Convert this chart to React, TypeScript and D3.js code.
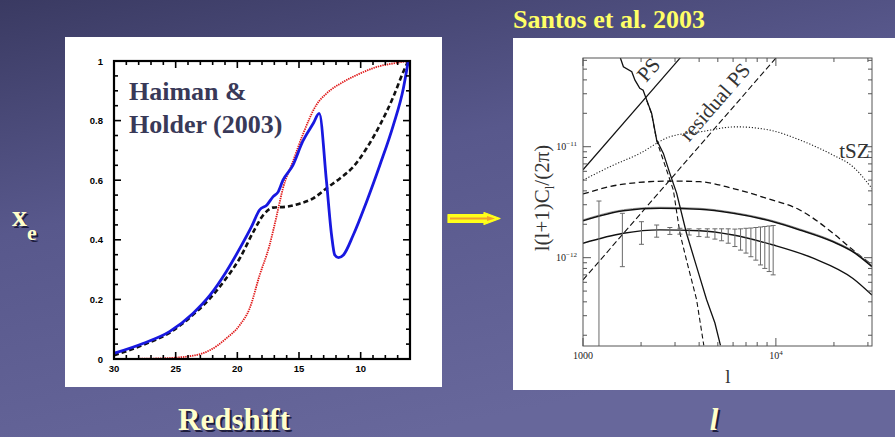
import React from "react";
import * as d3 from "d3";

// ---- Haiman & Holder (2003): ionized fraction x_e vs redshift ----
const zBlue = [30, 27.6, 25.5, 23.6, 22.2, 20.9, 19.8, 18.85, 18.2, 17.6, 17.1, 16.7, 16.3, 15.5, 14.7, 13.85, 13.36, 12.77, 12.36, 12.1, 11.8, 11.4, 10.6, 9.52, 8.44, 7.35, 6.54, 6.14];
const xeBlue = [0.019, 0.053, 0.092, 0.153, 0.215, 0.293, 0.371, 0.444, 0.5, 0.517, 0.545, 0.56, 0.6, 0.65, 0.73, 0.79, 0.824, 0.595, 0.416, 0.349, 0.34, 0.349, 0.416, 0.528, 0.651, 0.785, 0.908, 1.0];

const zBlack = [30, 27.6, 25.5, 23.6, 22.2, 20.9, 19.8, 18.7, 17.9, 17.1, 16.0, 14.9, 13.85, 12.77, 11.68, 10.6, 9.52, 8.44, 7.35, 6.54, 6.14];
const xeBlack = [0.012, 0.048, 0.088, 0.148, 0.204, 0.271, 0.338, 0.427, 0.483, 0.508, 0.511, 0.522, 0.539, 0.573, 0.606, 0.645, 0.707, 0.785, 0.88, 0.964, 1.0];

const zRed = [30, 26.3, 23.6, 22.2, 20.9, 19.8, 19.0, 18.2, 17.4, 16.8, 16.3, 15.5, 14.7, 13.6, 12.77, 11.4, 10.05, 8.7, 7.35, 6.14];
const xeRed = [0, 0.002, 0.011, 0.03, 0.069, 0.114, 0.17, 0.28, 0.38, 0.483, 0.573, 0.662, 0.752, 0.852, 0.891, 0.93, 0.958, 0.98, 0.992, 1.0];

const zTickLabels = [30, 25, 20, 15, 10];
const xeTickLabels = [0, 0.2, 0.4, 0.6, 0.8, 1];

// ---- Santos et al. 2003: l(l+1)C_l/(2pi) vs multipole l ----
const lTsz = [1000, 1380, 1970, 2820, 4030, 6250, 9310, 13300, 19800, 25100, 31500];
const cTsz = [5.0e-12, 6.6e-12, 8.7e-12, 1.23e-11, 1.36e-11, 1.51e-11, 1.41e-11, 1.15e-11, 8.4e-12, 6.6e-12, 4.2e-12];

const lDashed = [1000, 1620, 2820, 4030, 6010, 8950, 13300, 19800, 25100, 31500];
const cDashed = [3.75e-12, 4.6e-12, 4.9e-12, 4.84e-12, 4.2e-12, 3.43e-12, 2.69e-12, 1.66e-12, 1.17e-12, 8.6e-13];

const lUpper = [1000, 1620, 2500, 4030, 6010, 9690, 13300, 19800, 25100, 31500];
const cUpper = [2.15e-12, 2.65e-12, 2.79e-12, 2.73e-12, 2.51e-12, 2.11e-12, 1.78e-12, 1.39e-12, 1.13e-12, 8.3e-13];

const lLower = [1000, 1620, 2500, 4030, 6010, 9690, 15600, 25100, 31500];
const cLower = [1.35e-12, 1.66e-12, 1.78e-12, 1.75e-12, 1.6e-12, 1.3e-12, 9.9e-13, 6.5e-13, 4.6e-13];

const lPrimary = [1560, 1620, 1790, 1860, 1970, 2050, 2140, 2270, 2410, 2610, 2820, 3060, 3440, 3880, 4370, 4830, 5160];
const cPrimary = [6.35e-11, 5.25e-11, 4.74e-11, 3.98e-11, 3.36e-11, 3.23e-11, 2.63e-11, 1.99e-11, 1.15e-11, 8.7e-12, 5.75e-12, 3.8e-12, 1.66e-12, 8.3e-13, 4.2e-13, 2.58e-13, 1.62e-13];

const lPrimaryDash = [2140, 2270, 2410, 2710, 2940, 3180, 3440, 3880, 4230];
const cPrimaryDash = [2.6e-11, 1.97e-11, 1.13e-11, 6.2e-12, 4.07e-12, 1.66e-12, 9.5e-13, 4.2e-13, 1.62e-13];

const lPS = [1000, 3200];
const cPS = [6.2e-12, 6.35e-11];

const lResidual = [1000, 10000];
const cResidual = [6.3e-13, 6.3e-11];

const errL = [1210, 1600, 2010, 2410, 2820, 3180, 3550, 3990, 4410, 4830, 5230, 5660, 6130, 6560, 7000, 7420, 7870, 8320, 8760, 9230, 9680];
const errC = [1.48, 1.67, 1.715, 1.75, 1.745, 1.735, 1.71, 1.685, 1.675, 1.645, 1.62, 1.585, 1.535, 1.495, 1.47, 1.435, 1.41, 1.375, 1.355, 1.34, 1.325];
const errE = [1.76, 0.84, 0.395, 0.22, 0.125, 0.105, 0.11, 0.135, 0.145, 0.175, 0.2, 0.235, 0.275, 0.325, 0.37, 0.415, 0.46, 0.515, 0.555, 0.59, 0.625];
const errUnit = 1e-12;

const W = 895;
const H = 437;
const SERIF = "'Liberation Serif', 'Times New Roman', serif";
const SANS = "'Liberation Sans', Arial, sans-serif";

function ShadowText(props: { x: number; y: number; size: number; anchor?: string; italic?: boolean; children: React.ReactNode }) {
  const { x, y, size, anchor = "start", italic = false, children } = props;
  const common = {
    fontFamily: SERIF,
    fontWeight: 700 as const,
    fontSize: size,
    textAnchor: anchor as any,
    fontStyle: italic ? "italic" : "normal",
  };
  return (
    <g>
      <text x={x + 2} y={y + 2} fill="#1e1e3e" {...common}>{children}</text>
      <text x={x} y={y} fill="#ffffcc" {...common}>{children}</text>
    </g>
  );
}

export default function App() {
  // Left panel: reionization histories
  const L = { x0: 114, x1: 410, y0: 61, y1: 359 };
  const xL = d3.scaleLinear().domain([30, 6]).range([L.x0, L.x1]);
  const yL = d3.scaleLinear().domain([0, 1]).range([L.y1, L.y0]);
  const lineL = (zs: number[], vs: number[]) =>
    d3.line<number>()
      .x((i) => xL(zs[i]))
      .y((i) => yL(vs[i]))
      .curve(d3.curveMonotoneX)(zs.map((_, i) => i)) || "";

  const zMinor = d3.range(6, 31, 1);
  const xeMinor = d3.range(0, 21).map((i) => i * 0.05);

  // Right panel: secondary anisotropy power spectra
  const R = { x0: 583, x1: 872, y0: 58, y1: 346 };
  const xR = d3.scaleLog().domain([1000, 31500]).range([R.x0, R.x1]);
  const yR = d3.scaleLog().domain([1.6e-13, 6.3e-11]).range([R.y1, R.y0]);
  const lineR = (ls: number[], vs: number[], curve: d3.CurveFactory = d3.curveMonotoneX) =>
    d3.line<number>()
      .x((i) => xR(ls[i]))
      .y((i) => yR(vs[i]))
      .curve(curve)(ls.map((_, i) => i)) || "";

  const lMajor = [1000, 10000];
  const lMinor = [2000, 3000, 4000, 5000, 6000, 7000, 8000, 9000, 20000, 30000];
  const cMajor = [1e-12, 1e-11];
  const cMinor = [
    ...d3.range(2, 10).map((m) => m * 1e-13),
    ...d3.range(2, 10).map((m) => m * 1e-12),
    ...d3.range(2, 7).map((m) => m * 1e-11),
  ].filter((v) => v >= 1.6e-13 && v <= 6.3e-11);

  const arrowOuter = "448,214.5 484,214.5 484,212.5 500,218.5 484,224.5 484,222.5 448,222.5";
  const arrowInner = "450,217.5 487,217.5 487,216 495,218.5 487,221 487,219.5 450,219.5";

  return (
    <svg
      width={W}
      height={H}
      viewBox={`0 0 ${W} ${H}`}
      style={{ position: "fixed", left: 0, top: 0, display: "block" }}
    >
      <defs>
        <linearGradient id="slideBg" x1="0" y1="0" x2="0.45" y2="1">
          <stop offset="0" stopColor="#3a3a62" />
          <stop offset="0.45" stopColor="#58588c" />
          <stop offset="1" stopColor="#67679b" />
        </linearGradient>
        <clipPath id="clipR">
          <rect x={R.x0} y={R.y0} width={R.x1 - R.x0} height={R.y1 - R.y0} />
        </clipPath>
        <clipPath id="clipL">
          <rect x={L.x0} y={L.y0 - 2} width={L.x1 - L.x0} height={L.y1 - L.y0 + 4} />
        </clipPath>
      </defs>

      <rect x={0} y={0} width={W} height={H} fill="url(#slideBg)" />

      {/* ---------- Left panel ---------- */}
      <rect x={65} y={37} width={377} height={350} fill="#ffffff" />

      <g clipPath="url(#clipL)">
        <path d={lineL(zRed, xeRed)} fill="none" stroke="#e01818" strokeWidth={1.8} strokeDasharray="1.4,0.9" />
        <path d={lineL(zBlack, xeBlack)} fill="none" stroke="#111" strokeWidth={2.6} strokeDasharray="5,3" />
        <path d={lineL(zBlue, xeBlue)} fill="none" stroke="#1818e0" strokeWidth={2.8} strokeLinejoin="round" />
      </g>

      {/* minor / major ticks */}
      <g stroke="#000" strokeWidth={1.6}>
        {zMinor.map((z) => {
          const len = z % 5 === 0 ? 7 : 4;
          const x = xL(z);
          return (
            <g key={"zt" + z}>
              <line x1={x} x2={x} y1={L.y1} y2={L.y1 - len} />
              <line x1={x} x2={x} y1={L.y0} y2={L.y0 + len} />
            </g>
          );
        })}
        {xeMinor.map((v, i) => {
          const len = i % 4 === 0 ? 7 : 4;
          const y = yL(v);
          return (
            <g key={"yt" + i}>
              <line x1={L.x0} x2={L.x0 + len} y1={y} y2={y} />
              <line x1={L.x1} x2={L.x1 - len} y1={y} y2={y} />
            </g>
          );
        })}
      </g>
      <rect x={L.x0} y={L.y0} width={L.x1 - L.x0} height={L.y1 - L.y0} fill="none" stroke="#000" strokeWidth={2.2} />

      <g fontFamily={SANS} fontWeight={700} fontSize={9.5} fill="#000">
        {zTickLabels.map((z) => (
          <text key={"zl" + z} x={xL(z)} y={L.y1 + 13} textAnchor="middle">{z}</text>
        ))}
        {xeTickLabels.map((v) => (
          <text key={"xl" + v} x={L.x0 - 11} y={yL(v) + 3.5} textAnchor="end">{v}</text>
        ))}
      </g>

      <g fontFamily={SERIF} fontWeight={700} fontSize={26} fill="#393958">
        <text x={129} y={100}>Haiman &amp;</text>
        <text x={129} y={133}>Holder (2003)</text>
      </g>

      {/* ---------- Arrow ---------- */}
      <polygon points={arrowOuter} fill="#ffff1a" stroke="#ffff1a" strokeWidth={1.2} strokeLinejoin="round" />
      <polygon points={arrowInner} fill="#f0a030" />

      {/* ---------- Right panel ---------- */}
      <rect x={513} y={38} width={382} height={352} fill="#ffffff" />

      <g clipPath="url(#clipR)" fill="none">
        <path d={lineR(lPS, cPS, d3.curveLinear)} stroke="#111" strokeWidth={1.2} />
        <path d={lineR(lResidual, cResidual, d3.curveLinear)} stroke="#111" strokeWidth={1.1} strokeDasharray="6,3" />
        <path d={lineR(lTsz, cTsz)} stroke="#222" strokeWidth={1.1} strokeDasharray="1.2,1.8" />
        <path d={lineR(lDashed, cDashed)} stroke="#111" strokeWidth={1.3} strokeDasharray="6,3.5" />
        <path d={lineR(lUpper, cUpper)} stroke="#999" strokeWidth={1} transform="translate(0,-1)" />
        <path d={lineR(lUpper, cUpper)} stroke="#111" strokeWidth={1.6} />
        <path d={lineR(lLower, cLower)} stroke="#111" strokeWidth={1.4} />
        <path d={lineR(lPrimary, cPrimary, d3.curveLinear)} stroke="#111" strokeWidth={1.3} />
        <path d={lineR(lPrimaryDash, cPrimaryDash, d3.curveLinear)} stroke="#111" strokeWidth={1.1} strokeDasharray="5,3" />

        <g stroke="#6a6a6a" strokeWidth={1}>
          {errL.map((l, i) => {
            const hi = (errC[i] + errE[i]) * errUnit;
            const loV = (errC[i] - errE[i]) * errUnit;
            const x = xR(l);
            const yHi = yR(hi);
            const yLo = loV > 0 ? yR(loV) : R.y1 + 5;
            return (
              <g key={"eb" + i}>
                <line x1={x} x2={x} y1={yHi} y2={yLo} />
                <line x1={x - 2.5} x2={x + 2.5} y1={yHi} y2={yHi} />
                {loV > 0 && <line x1={x - 2.5} x2={x + 2.5} y1={yLo} y2={yLo} />}
              </g>
            );
          })}
        </g>
      </g>

      {/* frame and log ticks */}
      <g stroke="#555" strokeWidth={1}>
        {lMajor.concat(lMinor).map((l) => {
          const len = lMajor.includes(l) ? 8 : 4;
          const x = xR(l);
          return (
            <g key={"lt" + l}>
              <line x1={x} x2={x} y1={R.y1} y2={R.y1 - len} />
              <line x1={x} x2={x} y1={R.y0} y2={R.y0 + len} />
            </g>
          );
        })}
        {cMajor.concat(cMinor).map((c, i) => {
          const len = cMajor.includes(c) ? 8 : 4;
          const y = yR(c);
          return (
            <g key={"ct" + i}>
              <line x1={R.x0} x2={R.x0 + len} y1={y} y2={y} />
              <line x1={R.x1} x2={R.x1 - len} y1={y} y2={y} />
            </g>
          );
        })}
      </g>
      <rect x={R.x0} y={R.y0} width={R.x1 - R.x0} height={R.y1 - R.y0} fill="none" stroke="#555" strokeWidth={1} />

      <g fontFamily={SERIF} fontSize={10} fill="#222">
        <text x={xR(1000)} y={R.y1 + 13} textAnchor="middle">1000</text>
        <text x={xR(10000)} y={R.y1 + 13} textAnchor="middle">
          10<tspan dy={-4} fontSize={7}>4</tspan>
        </text>
        <text x={R.x0 - 6} y={yR(1e-11) + 3.5} textAnchor="end">
          10<tspan dy={-4} fontSize={7}>−11</tspan>
        </text>
        <text x={R.x0 - 6} y={yR(1e-12) + 3.5} textAnchor="end">
          10<tspan dy={-4} fontSize={7}>−12</tspan>
        </text>
      </g>

      <text x={728} y={383} fontFamily={SERIF} fontSize={19} fill="#333" textAnchor="middle">l</text>
      <text
        transform={`translate(549, 198) rotate(-90)`}
        fontFamily={SERIF}
        fontSize={21}
        fill="#333"
        textAnchor="middle"
      >
        l(l+1)C<tspan dy={5} fontSize={13}>l</tspan>
        <tspan dy={-5}>/(2π)</tspan>
      </text>

      <g fontFamily={SERIF} fontSize={21} fill="#333">
        <text transform={`translate(${xR(2330)}, ${yR(4.5e-11)}) rotate(-49)`} textAnchor="middle">PS</text>
        <text transform={`translate(${xR(5150)}, ${yR(2.3e-11)}) rotate(-49)`} textAnchor="middle">residual PS</text>
        <text x={xR(25500)} y={yR(1.0e-11) + 11} textAnchor="middle">tSZ</text>
      </g>

      {/* ---------- Slide captions ---------- */}
      <text x={513} y={28} fontFamily={SERIF} fontWeight={700} fontSize={26} fill="#ffff66">
        Santos et al. 2003
      </text>

      <ShadowText x={12} y={226} size={30}>
        x<tspan dy={14} fontSize={22}>e</tspan>
      </ShadowText>
      <ShadowText x={234} y={430} size={31} anchor="middle">Redshift</ShadowText>
      <ShadowText x={714} y={430} size={31} anchor="middle" italic>l</ShadowText>
    </svg>
  );
}
